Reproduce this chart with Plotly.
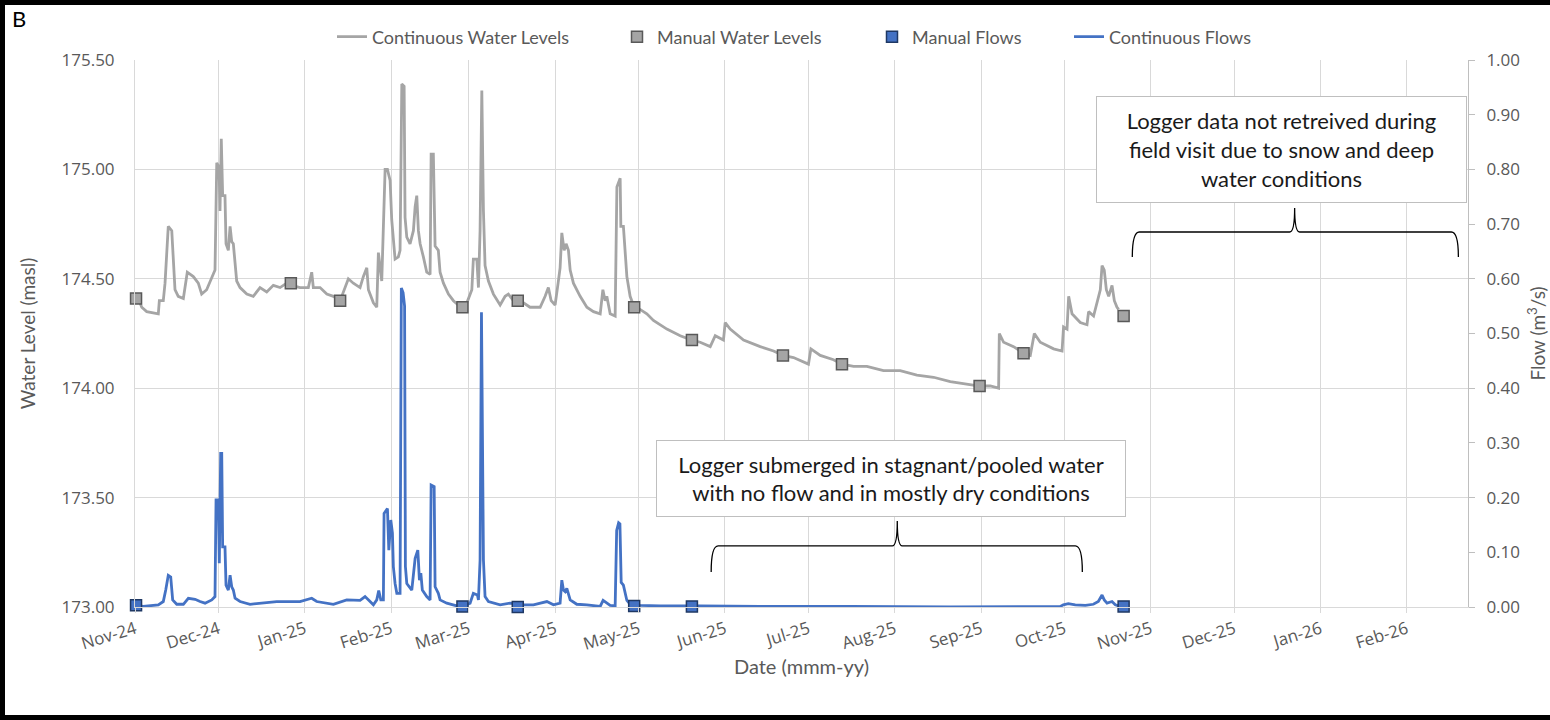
import pandas as pd
import plotly.graph_objects as go

# ---------------------------------------------------------------------------
# Continuous logger record: water level (masl)
# ---------------------------------------------------------------------------
level_time = [
    "2024-11-01 13:00", "2024-11-03 10:00", "2024-11-05 05:00", "2024-11-09 09:00",
    "2024-11-09 18:00", "2024-11-11 04:00", "2024-11-11 19:00", "2024-11-12 09:00",
    "2024-11-12 23:00", "2024-11-14 05:00", "2024-11-14 18:00", "2024-11-15 09:00",
    "2024-11-16 13:00", "2024-11-18 09:00", "2024-11-19 19:00", "2024-11-21 23:00",
    "2024-11-23 18:00", "2024-11-24 23:00", "2024-11-26 18:00", "2024-11-28 14:00",
    "2024-11-29 18:00", "2024-11-30 09:00", "2024-12-01 05:00", "2024-12-01 13:00",
    "2024-12-02 00:00", "2024-12-02 12:00", "2024-12-03 08:00", "2024-12-03 17:00",
    "2024-12-04 13:00", "2024-12-05 04:00", "2024-12-05 18:00", "2024-12-06 08:00",
    "2024-12-06 23:00", "2024-12-07 13:00", "2024-12-08 18:00", "2024-12-11 04:00",
    "2024-12-13 12:00", "2024-12-15 22:00", "2024-12-18 08:00", "2024-12-20 17:00",
    "2024-12-23 03:00", "2024-12-25 13:00", "2024-12-27 10:00", "2024-12-30 07:00",
    "2025-01-02 07:00", "2025-01-03 12:00", "2025-01-04 02:00", "2025-01-06 12:00",
    "2025-01-08 22:00", "2025-01-11 07:00", "2025-01-13 17:00", "2025-01-15 12:00",
    "2025-01-16 16:00", "2025-01-18 11:00", "2025-01-20 21:00", "2025-01-22 01:00",
    "2025-01-23 07:00", "2025-01-23 21:00", "2025-01-25 16:00", "2025-01-26 21:00",
    "2025-01-27 11:00", "2025-01-28 16:00", "2025-01-29 21:00", "2025-01-30 17:00",
    "2025-01-31 16:00", "2025-02-01 06:00", "2025-02-01 20:00", "2025-02-02 11:00",
    "2025-02-03 15:00", "2025-02-04 06:00", "2025-02-04 21:00", "2025-02-05 17:00",
    "2025-02-06 01:00", "2025-02-06 16:00", "2025-02-07 20:00", "2025-02-09 01:00",
    "2025-02-09 16:00", "2025-02-10 06:00", "2025-02-10 20:00", "2025-02-11 11:00",
    "2025-02-12 15:00", "2025-02-13 20:00", "2025-02-15 01:00", "2025-02-15 10:00",
    "2025-02-16 05:00", "2025-02-16 20:00", "2025-02-18 00:00", "2025-02-18 15:00",
    "2025-02-19 20:00", "2025-02-21 15:00", "2025-02-23 10:00", "2025-02-25 05:00",
    "2025-02-26 16:00", "2025-02-28 06:00", "2025-03-02 01:00", "2025-03-02 14:00",
    "2025-03-03 20:00", "2025-03-04 10:00", "2025-03-05 00:00", "2025-03-05 15:00",
    "2025-03-06 05:00", "2025-03-06 19:00", "2025-03-08 00:00", "2025-03-09 19:00",
    "2025-03-12 05:00", "2025-03-14 00:00", "2025-03-15 04:00", "2025-03-16 23:00",
    "2025-03-18 13:00", "2025-03-20 14:00", "2025-03-22 23:00", "2025-03-26 14:00",
    "2025-03-28 09:00", "2025-03-29 13:00", "2025-03-30 13:00", "2025-03-31 23:00",
    "2025-04-02 01:00", "2025-04-02 18:00", "2025-04-03 09:00", "2025-04-04 05:00",
    "2025-04-04 22:00", "2025-04-05 18:00", "2025-04-06 09:00", "2025-04-07 13:00",
    "2025-04-09 23:00", "2025-04-12 09:00", "2025-04-14 18:00", "2025-04-17 04:00",
    "2025-04-18 03:00", "2025-04-18 23:00", "2025-04-19 13:00", "2025-04-20 18:00",
    "2025-04-22 13:00", "2025-04-23 04:00", "2025-04-24 08:00", "2025-04-24 14:00",
    "2025-04-25 12:00", "2025-04-26 18:00", "2025-04-27 22:00", "2025-04-29 09:00",
    "2025-05-01 12:00", "2025-05-03 22:00", "2025-05-06 07:00", "2025-05-08 17:00",
    "2025-05-11 03:00", "2025-05-15 22:00", "2025-05-20 03:00", "2025-05-23 02:00",
    "2025-05-26 17:00", "2025-05-28 12:00", "2025-05-31 11:00", "2025-06-01 02:00",
    "2025-06-02 21:00", "2025-06-07 16:00", "2025-06-13 16:00", "2025-06-18 11:00",
    "2025-06-21 20:00", "2025-06-25 15:00", "2025-07-01 00:00", "2025-07-01 21:00",
    "2025-07-05 06:00", "2025-07-10 00:00", "2025-07-13 01:00", "2025-07-17 05:00",
    "2025-07-22 00:00", "2025-07-27 23:00", "2025-08-02 23:00", "2025-08-08 23:00",
    "2025-08-14 23:00", "2025-08-20 23:00", "2025-08-26 23:00", "2025-08-31 12:00",
    "2025-09-04 08:00", "2025-09-07 08:00", "2025-09-07 14:00", "2025-09-09 03:00",
    "2025-09-12 17:00", "2025-09-16 07:00", "2025-09-18 17:00", "2025-09-20 04:00",
    "2025-09-22 07:00", "2025-09-27 02:00", "2025-09-30 03:00", "2025-09-30 16:00",
    "2025-10-01 22:00", "2025-10-02 12:00", "2025-10-03 17:00", "2025-10-06 16:00",
    "2025-10-09 02:00", "2025-10-09 16:00", "2025-10-11 11:00", "2025-10-12 22:00",
    "2025-10-13 21:00", "2025-10-14 12:00", "2025-10-15 07:00", "2025-10-16 01:00",
    "2025-10-16 21:00", "2025-10-18 02:00", "2025-10-18 22:00", "2025-10-19 21:00",
    "2025-10-20 11:00",
]
level_masl = [
    174.43, 174.37, 174.35, 174.34, 174.40, 174.40, 174.48, 174.64,
    174.74, 174.72, 174.57, 174.45, 174.42, 174.41, 174.53, 174.51,
    174.48, 174.43, 174.45, 174.51, 174.54, 175.03, 175.01, 174.81,
    175.14, 174.88, 174.88, 174.66, 174.63, 174.74, 174.67, 174.66,
    174.56, 174.49, 174.46, 174.43, 174.42, 174.46, 174.44, 174.47,
    174.46, 174.48, 174.47, 174.46, 174.46, 174.53, 174.46, 174.46,
    174.43, 174.42, 174.40, 174.46, 174.50, 174.48, 174.46, 174.51,
    174.55, 174.45, 174.39, 174.37, 174.62, 174.49, 175.00, 175.00,
    174.95, 174.77, 174.66, 174.59, 174.60, 174.63, 175.39, 175.38,
    174.78, 174.69, 174.66, 174.72, 174.83, 174.88, 174.72, 174.66,
    174.60, 174.53, 174.52, 175.07, 175.07, 174.65, 174.63, 174.53,
    174.48, 174.43, 174.40, 174.38, 174.37, 174.39, 174.45, 174.59,
    174.59, 174.46, 174.72, 175.36, 174.81, 174.56, 174.49, 174.43,
    174.38, 174.42, 174.43, 174.40, 174.40, 174.39, 174.37, 174.37,
    174.42, 174.46, 174.40, 174.38, 174.48, 174.55, 174.71, 174.63,
    174.66, 174.63, 174.54, 174.48, 174.42, 174.37, 174.35, 174.34,
    174.45, 174.40, 174.42, 174.34, 174.33, 174.92, 174.96, 174.74,
    174.74, 174.51, 174.42, 174.37, 174.36, 174.34, 174.31, 174.29,
    174.27, 174.24, 174.22, 174.21, 174.19, 174.24, 174.22, 174.30,
    174.27, 174.22, 174.19, 174.17, 174.15, 174.14, 174.11, 174.18,
    174.15, 174.13, 174.11, 174.10, 174.10, 174.08, 174.08, 174.06,
    174.05, 174.03, 174.02, 174.01, 174.01, 174.00, 174.25, 174.21,
    174.19, 174.16, 174.15, 174.25, 174.21, 174.18, 174.17, 174.28,
    174.27, 174.42, 174.34, 174.30, 174.29, 174.35, 174.33, 174.40,
    174.45, 174.56, 174.54, 174.45, 174.42, 174.47, 174.40, 174.37,
    174.36,
]

# ---------------------------------------------------------------------------
# Continuous logger record: flow (m3/s)
# ---------------------------------------------------------------------------
flow_time = [
    "2024-11-01 13:00", "2024-11-03 23:00", "2024-11-09 09:00", "2024-11-11 04:00",
    "2024-11-12 01:00", "2024-11-12 23:00", "2024-11-13 20:00", "2024-11-14 13:00",
    "2024-11-16 00:00", "2024-11-18 09:00", "2024-11-20 04:00", "2024-11-22 14:00",
    "2024-11-24 09:00", "2024-11-26 04:00", "2024-11-28 14:00", "2024-11-29 18:00",
    "2024-11-30 03:00", "2024-11-30 23:00", "2024-12-01 07:00", "2024-12-01 19:00",
    "2024-12-02 04:00", "2024-12-02 12:00", "2024-12-03 08:00", "2024-12-03 17:00",
    "2024-12-04 13:00", "2024-12-05 04:00", "2024-12-05 18:00", "2024-12-06 08:00",
    "2024-12-06 23:00", "2024-12-08 18:00", "2024-12-12 08:00", "2024-12-18 08:00",
    "2024-12-21 22:00", "2024-12-30 07:00", "2025-01-03 12:00", "2025-01-05 07:00",
    "2025-01-11 07:00", "2025-01-16 02:00", "2025-01-20 21:00", "2025-01-22 16:00",
    "2025-01-23 21:00", "2025-01-25 16:00", "2025-01-26 21:00", "2025-01-27 14:00",
    "2025-01-28 08:00", "2025-01-29 06:00", "2025-01-29 12:00", "2025-01-30 17:00",
    "2025-01-31 05:00", "2025-01-31 22:00", "2025-02-01 12:00", "2025-02-01 20:00",
    "2025-02-02 11:00", "2025-02-03 02:00", "2025-02-04 06:00", "2025-02-04 17:00",
    "2025-02-05 08:00", "2025-02-05 21:00", "2025-02-06 04:00", "2025-02-06 16:00",
    "2025-02-08 11:00", "2025-02-09 16:00", "2025-02-10 15:00", "2025-02-11 05:00",
    "2025-02-11 17:00", "2025-02-12 06:00", "2025-02-13 20:00", "2025-02-15 01:00",
    "2025-02-15 10:00", "2025-02-16 12:00", "2025-02-16 20:00", "2025-02-18 00:00",
    "2025-02-18 15:00", "2025-02-21 01:00", "2025-02-24 15:00", "2025-02-26 16:00",
    "2025-03-01 10:00", "2025-03-02 14:00", "2025-03-04 01:00", "2025-03-04 10:00",
    "2025-03-05 00:00", "2025-03-05 12:00", "2025-03-06 05:00", "2025-03-06 19:00",
    "2025-03-08 00:00", "2025-03-12 05:00", "2025-03-15 19:00", "2025-03-19 09:00",
    "2025-03-24 04:00", "2025-03-29 00:00", "2025-03-31 09:00", "2025-04-02 18:00",
    "2025-04-03 09:00", "2025-04-03 23:00", "2025-04-04 14:00", "2025-04-05 04:00",
    "2025-04-06 09:00", "2025-04-08 18:00", "2025-04-12 09:00", "2025-04-17 04:00",
    "2025-04-18 05:00", "2025-04-19 07:00", "2025-04-20 18:00", "2025-04-22 13:00",
    "2025-04-23 02:00", "2025-04-23 19:00", "2025-04-24 06:00", "2025-04-24 17:00",
    "2025-04-25 12:00", "2025-04-26 18:00", "2025-04-27 22:00", "2025-05-01 12:00",
    "2025-05-08 17:00", "2025-05-23 02:00", "2025-06-13 16:00", "2025-07-16 00:00",
    "2025-08-20 23:00", "2025-09-29 12:00", "2025-09-30 14:00", "2025-10-02 09:00",
    "2025-10-04 21:00", "2025-10-08 12:00", "2025-10-11 09:00", "2025-10-13 04:00",
    "2025-10-14 12:00", "2025-10-15 07:00", "2025-10-16 07:00", "2025-10-18 02:00",
    "2025-10-19 06:00", "2025-10-20 11:00",
]
flow_cms = [
    0.003, 0.001, 0.004, 0.010, 0.031, 0.058, 0.055, 0.013,
    0.005, 0.005, 0.016, 0.014, 0.010, 0.007, 0.013, 0.019,
    0.196, 0.196, 0.080, 0.281, 0.281, 0.110, 0.110, 0.040,
    0.031, 0.058, 0.037, 0.031, 0.016, 0.010, 0.005, 0.008,
    0.010, 0.010, 0.016, 0.010, 0.005, 0.013, 0.012, 0.019,
    0.013, 0.004, 0.013, 0.030, 0.013, 0.013, 0.171, 0.180,
    0.104, 0.159, 0.135, 0.074, 0.043, 0.025, 0.025, 0.583,
    0.575, 0.550, 0.074, 0.043, 0.031, 0.089, 0.104, 0.049,
    0.062, 0.031, 0.019, 0.013, 0.223, 0.220, 0.037, 0.025,
    0.013, 0.007, 0.002, 0.001, 0.007, 0.025, 0.022, 0.013,
    0.086, 0.539, 0.086, 0.019, 0.010, 0.004, 0.007, 0.004,
    0.004, 0.010, 0.004, 0.007, 0.049, 0.031, 0.028, 0.034,
    0.013, 0.005, 0.004, 0.001, 0.012, 0.008, 0.003, 0.002,
    0.140, 0.154, 0.152, 0.045, 0.040, 0.012, 0.005, 0.003,
    0.002, 0.002, 0.001, 0.001, 0.000, 0.001, 0.004, 0.006,
    0.004, 0.003, 0.005, 0.010, 0.022, 0.013, 0.007, 0.010,
    0.004, 0.002,
]

# ---------------------------------------------------------------------------
# Manual field measurements
# ---------------------------------------------------------------------------
manual_level_time = [
    "2024-11-01 09:00", "2024-12-27 00:00", "2025-01-13 17:00", "2025-02-26 16:00",
    "2025-03-18 13:00", "2025-04-29 09:00", "2025-05-20 03:00", "2025-06-21 20:00",
    "2025-07-13 01:00", "2025-08-31 12:00", "2025-09-16 07:00", "2025-10-22 06:00",
]
manual_level_masl = [
    174.41, 174.48, 174.40, 174.37, 174.40, 174.37,
    174.22, 174.15, 174.11, 174.01, 174.16, 174.33,
]
manual_flow_time = [
    "2024-11-01 09:00", "2025-02-26 16:00", "2025-03-18 13:00",
    "2025-04-29 09:00", "2025-05-20 03:00", "2025-10-22 06:00",
]
manual_flow_cms = [0.003, 0.001, 0.000, 0.002, 0.001, 0.001]

month_ticks_start = "2024-11-01"
x_range = ["2024-11-01", "2026-02-23"]
level_range = [173.0, 175.5]
flow_range = [0.0, 1.0]

# ---------------------------------------------------------------------------
# Styling
# ---------------------------------------------------------------------------
W, H = 1550, 720
ML, MR, MT, MB = 135, 82, 60, 113
PW, PH = W - ML - MR, H - MT - MB

GREY = "#A5A5A5"
BLUE = "#4472C4"
GRID = "#D9D9D9"
AXIS_TXT = "#595959"
TICK_FONT = dict(family="Open Sans", size=17, color=AXIS_TXT)
LABEL_FONT = dict(family="Lato", size=18, color=AXIS_TXT)
NOTE_FONT = dict(family="Lato", size=22, color="#1a1a1a")

x0_ts, x1_ts = pd.Timestamp(x_range[0]), pd.Timestamp(x_range[1])


def xpaper(t):
    return (pd.Timestamp(t) - x0_ts) / (x1_ts - x0_ts)


def ypaper(v):
    return (v - level_range[0]) / (level_range[1] - level_range[0])


def brace_path(t_left, t_mid, t_right, y_bar, y_tip, y_cusp, r_px=7, c_px=5):
    """Horizontal curly brace opening downward, in paper coordinates."""
    xl, xm, xr = xpaper(t_left), xpaper(t_mid), xpaper(t_right)
    yb, yt, yc = ypaper(y_bar), ypaper(y_tip), ypaper(y_cusp)
    r, c = r_px / PW, c_px / PW
    return (
        f"M {xl:.5f},{yt:.5f} Q {xl:.5f},{yb:.5f} {xl + r:.5f},{yb:.5f} "
        f"L {xm - c:.5f},{yb:.5f} Q {xm:.5f},{yb:.5f} {xm:.5f},{yc:.5f} "
        f"Q {xm:.5f},{yb:.5f} {xm + c:.5f},{yb:.5f} "
        f"L {xr - r:.5f},{yb:.5f} Q {xr:.5f},{yb:.5f} {xr:.5f},{yt:.5f}"
    )


fig = go.Figure()

fig.add_trace(go.Scatter(
    x=level_time, y=level_masl, mode="lines", name="Continuous Water Levels",
    line=dict(color=GREY, width=2.8), legend="legend", showlegend=True, yaxis="y",
))
fig.add_trace(go.Scatter(
    x=manual_level_time, y=manual_level_masl, mode="markers", name="Manual Water Levels",
    marker=dict(symbol="square", size=11, color=GREY, line=dict(color="#595959", width=1.5)),
    legend="legend2", showlegend=True, yaxis="y", cliponaxis=False,
))
fig.add_trace(go.Scatter(
    x=flow_time, y=flow_cms, mode="lines", name="Continuous Flows",
    line=dict(color=BLUE, width=2.8), legend="legend4", showlegend=True, yaxis="y2",
))
fig.add_trace(go.Scatter(
    x=manual_flow_time, y=manual_flow_cms, mode="markers", name="Manual Flows",
    marker=dict(symbol="square", size=11, color=BLUE, line=dict(color="#1F3864", width=1.5)),
    legend="legend3", showlegend=True, yaxis="y2", cliponaxis=False,
))


def legend_at(px_left):
    return dict(
        x=(px_left - ML) / PW, y=(H - MB - 37) / PH, xanchor="left", yanchor="middle",
        orientation="h", font=LABEL_FONT, bgcolor="rgba(0,0,0,0)", borderwidth=0,
        visible=True,
    )


shapes = [
    # outer frame of the figure
    dict(type="rect", xref="paper", yref="paper", layer="above",
         x0=-(ML - 2.5) / PW, x1=1 + (MR + 20) / PW,
         y0=-(MB - 2.5) / PH, y1=1 + (MT - 2.5) / PH,
         line=dict(color="black", width=5), fillcolor="rgba(0,0,0,0)"),
    # brace over the period without logger data
    dict(type="path", xref="paper", yref="paper", layer="above",
         path=brace_path("2025-10-25 09:00", "2025-12-22 17:00", "2026-02-19 13:00",
                         174.714, 174.600, 174.824),
         line=dict(color="#000000", width=1.3)),
    # brace over the submerged-logger period
    dict(type="path", xref="paper", yref="paper", layer="above",
         path=brace_path("2025-05-27 01:00", "2025-08-01 22:00", "2025-10-07 10:00",
                         173.279, 173.160, 173.393),
         line=dict(color="#000000", width=1.3)),
]

annotations = [
    dict(text="B", xref="paper", yref="paper", x=(10 - ML) / PW, y=(H - MB - 18) / PH,
         xanchor="left", yanchor="middle", showarrow=False,
         font=dict(family="Lato", size=22, color="black")),
    dict(text="Logger data not retreived during<br>field visit due to snow and deep<br>water conditions",
         x="2025-12-18 02:00", y=175.091, xref="x", yref="y", showarrow=False,
         xanchor="center", yanchor="middle", align="center",
         width=369, height=105, bgcolor="white", bordercolor="#BFBFBF",
         borderwidth=1, borderpad=0, font=NOTE_FONT),
    dict(text="Logger submerged in stagnant/pooled water<br>with no flow and in mostly dry conditions",
         x="2025-07-30 17:00", y=173.587, xref="x", yref="y", showarrow=False,
         xanchor="center", yanchor="middle", align="center",
         width=468, height=75, bgcolor="white", bordercolor="#BFBFBF",
         borderwidth=1, borderpad=0, font=NOTE_FONT),
]

fig.update_layout(
    width=W, height=H,
    margin=dict(l=ML, r=MR, t=MT, b=MB),
    paper_bgcolor="white", plot_bgcolor="white",
    showlegend=True,
    legend=legend_at(332), legend2=legend_at(617),
    legend3=legend_at(872), legend4=legend_at(1069),
    shapes=shapes, annotations=annotations,
    xaxis=dict(
        type="date", range=x_range, dtick="M1", tick0=month_ticks_start,
        tickformat="%b-%y", tickangle=-17, tickfont=TICK_FONT,
        showgrid=True, gridcolor=GRID, gridwidth=1,
        showline=True, linecolor=GRID, linewidth=1,
        ticks="outside", ticklen=5, tickcolor=GRID,
        title=dict(text="Date (mmm-yy)", font=dict(family="Lato", size=20, color=AXIS_TXT), standoff=4),
        automargin=False, zeroline=False,
    ),
    yaxis=dict(
        range=level_range, dtick=0.5, tickformat=".2f", tickfont=TICK_FONT,
        showgrid=True, gridcolor=GRID, gridwidth=1, zeroline=False,
        showline=True, linecolor=GRID, ticks="", ticklabelstandoff=16,
        title=dict(text="Water Level (masl)", font=dict(family="Lato", size=19, color=AXIS_TXT), standoff=20),
        automargin=False,
    ),
    yaxis2=dict(
        overlaying="y", side="right", range=flow_range, dtick=0.1, tickformat=".2f",
        tickfont=TICK_FONT, showgrid=False, zeroline=False,
        showline=True, linecolor="#BFBFBF", ticks="outside", ticklen=6, tickcolor="#BFBFBF",
        ticklabelstandoff=8,
        title=dict(text="Flow (m<sup>3</sup>/s)", font=dict(family="Lato", size=19, color=AXIS_TXT), standoff=12),
        automargin=False,
    ),
)

fig.write_html("out.html")
